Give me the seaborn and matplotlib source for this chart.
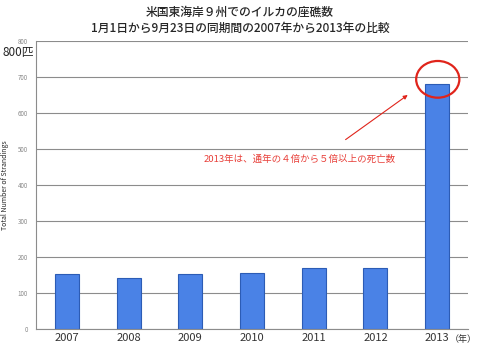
import numpy as np
import matplotlib
matplotlib.use('Agg')
import matplotlib.pyplot as plt
from matplotlib.patches import Ellipse
import seaborn as sns
import pandas as pd

years = ['2007', '2008', '2009', '2010', '2011', '2012', '2013']
strandings = [153, 142, 152, 154, 168, 170, 680]
y_ticks = [0, 100, 200, 300, 400, 500, 600, 700, 800]

title_1 = '米国東海岸９州でのイルカの座礁数'
title_2 = '1月1日から9月23日の同期間の2007年から2013年の比較'
note = '2013年は、通年の４倍から５倍以上の死亡数'

sns.set_theme(style='white')
plt.rcParams['font.family'] = ['Noto Sans CJK JP', 'DejaVu Sans']

df = pd.DataFrame({'year': years, 'n': strandings})

fig = plt.figure(figsize=(4.8, 3.55), dpi=100)
ax = fig.add_axes([0.075, 0.074, 0.9, 0.811])

sns.barplot(data=df, x='year', y='n', ax=ax, color='#4a82e6',
            edgecolor='#2c5cb5', linewidth=0.8, width=0.39, saturation=1)

ax.set_xlim(-0.5, 6.5)
ax.set_ylim(0, 800)
ax.set_yticks(y_ticks)
ax.yaxis.grid(True, color='#8c8c8c', linewidth=0.8)
ax.set_axisbelow(True)
for s in ['top', 'right']:
    ax.spines[s].set_visible(False)
for s in ['left', 'bottom']:
    ax.spines[s].set_color('#8c8c8c')
    ax.spines[s].set_linewidth(0.8)
ax.tick_params(axis='y', labelsize=4.5, labelcolor='#888888', length=0, pad=6)
ax.tick_params(axis='x', labelsize=8, labelcolor='#333333', length=0, pad=3)
ax.set_xlabel('')
ax.set_ylabel('Total Number of Strandings', fontsize=5, labelpad=6)

ax.text(6.21, -17, '（年）', fontsize=6.5, color='#333333', ha='left', va='top')

fig.text(0.5, 0.966, title_1, ha='center', va='center', fontsize=8.5, fontweight='medium')
fig.text(0.5, 0.92, title_2, ha='center', va='center', fontsize=8.5, fontweight='medium')
fig.text(0.005, 0.852, '800匹', ha='left', va='center', fontsize=8.5)

# annotation: circle + arrow + note
ax.add_patch(Ellipse((6.01, 693), 0.70, 102, fill=False, edgecolor='#e0241b',
                     linewidth=1.6, clip_on=False, zorder=5))
ax.annotate('', xy=(5.56, 654), xytext=(4.48, 521),
            arrowprops=dict(arrowstyle='-|>', color='#e0241b', lw=0.8,
                            mutation_scale=6))
ax.text(3.78, 472, note, ha='center', va='center', fontsize=6.8, color='#e8403a')

fig.savefig('out.png', dpi=100)
